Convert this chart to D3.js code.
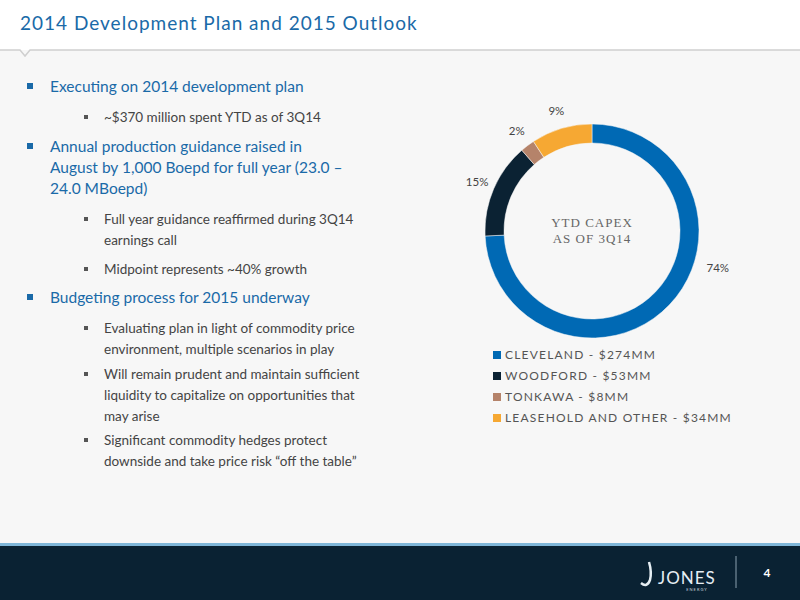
<!DOCTYPE html>
<html><head><meta charset="utf-8">
<script src="https://cdn.jsdelivr.net/npm/d3@7"></script>
<style>body{margin:0}svg{display:block}</style>
</head><body>
<svg id="slide" width="800" height="600"></svg>
<script>
// chart data
var categories = ["CLEVELAND", "WOODFORD", "TONKAWA", "LEASEHOLD AND OTHER"];
var capex = [274, 53, 8, 34];
var pctLabels = ["74%", "15%", "2%", "9%"];
var colors = ["#0069b4", "#0b2233", "#b5836a", "#f6a833"];

var bullets = [
  {lvl: 0, lines: ["Executing on 2014 development plan"]},
  {lvl: 1, lines: ["~$370 million spent YTD as of 3Q14"]},
  {lvl: 0, lines: ["Annual production guidance raised in", "August by 1,000 Boepd for full year (23.0 \u2013", "24.0 MBoepd)"]},
  {lvl: 1, lines: ["Full year guidance reaffirmed during 3Q14", "earnings call"]},
  {lvl: 1, lines: ["Midpoint represents ~40% growth"]},
  {lvl: 0, lines: ["Budgeting process for 2015 underway"]},
  {lvl: 1, lines: ["Evaluating plan in light of commodity price", "environment, multiple scenarios in play"]},
  {lvl: 1, lines: ["Will remain prudent and maintain sufficient", "liquidity to capitalize on opportunities that", "may arise"]},
  {lvl: 1, lines: ["Significant commodity hedges protect", "downside and take price risk \u201coff the table\u201d"]}
];
// layout: vertical gap before each bullet
var gaps = [0, 30, 30, 30, 29, 29, 30, 25, 24];

var svg = d3.select("#slide");
var font = "Lato, 'Open Sans', sans-serif";

// background + header
svg.append("rect").attr("width", 800).attr("height", 600).attr("fill", "#f7f7f7");
svg.append("rect").attr("width", 800).attr("height", 50).attr("fill", "#fff");
svg.append("path").attr("d", "M0,50 L20,50 L25,56 L30,50 L800,50")
  .attr("fill", "none").attr("stroke", "#cfcfcf").attr("stroke-width", 1.5);
svg.append("text").attr("x", 20).attr("y", 30).attr("font-family", font)
  .attr("font-size", 19).attr("letter-spacing", 1).attr("fill", "#1a6aa8")
  .text("2014 Development Plan and 2015 Outlook");

// footer
svg.append("rect").attr("y", 543).attr("width", 800).attr("height", 3).attr("fill", "#7fb6d8");
svg.append("rect").attr("y", 546).attr("width", 800).attr("height", 54).attr("fill", "#0a2233");
svg.append("text").attr("x", 658).attr("y", 584).attr("font-family", font)
  .attr("font-size", 17).attr("letter-spacing", 1).attr("fill", "#e6eef3").text("JONES");
svg.append("text").attr("x", 697).attr("y", 591).attr("text-anchor", "middle").attr("font-family", font)
  .attr("font-size", 4).attr("letter-spacing", 1).attr("fill", "#c8d2da").text("ENERGY");
svg.append("path").attr("d", "M649,562 Q652,572 650,580 Q647,588 641,583")
  .attr("fill", "none").attr("stroke", "#e6eef3").attr("stroke-width", 2.5);
svg.append("line").attr("x1", 736).attr("x2", 736).attr("y1", 556).attr("y2", 588)
  .attr("stroke", "#8aa0b0").attr("stroke-width", 1);
svg.append("text").attr("x", 767).attr("y", 577).attr("text-anchor", "middle").attr("font-family", font)
  .attr("font-size", 12).attr("font-weight", "bold").attr("fill", "#fff").text("4");

// bullet text
var y = 92;
bullets.forEach(function(b, i) {
  if (i > 0) y += gaps[i];
  var main = b.lvl === 0;
  svg.append("rect").attr("x", main ? 27 : 84).attr("y", y - (main ? 9 : 7))
    .attr("width", main ? 6 : 4).attr("height", main ? 6 : 4)
    .attr("fill", main ? "#1a6aa8" : "#555");
  b.lines.forEach(function(l, j) {
    if (j > 0) y += 21;
    svg.append("text").attr("x", main ? 50 : 104).attr("y", y)
      .attr("font-family", font).attr("font-size", main ? 15.5 : 13.5)
      .attr("fill", main ? "#1a6aa8" : "#444").text(l);
  });
});

// donut
var cx = 592, cy = 231, rOut = 107, rIn = 88;
var pie = d3.pie().sort(null)(capex);
var arc = d3.arc().innerRadius(rIn).outerRadius(rOut);
var labelArc = d3.arc().innerRadius(rOut + 18).outerRadius(rOut + 18);
var g = svg.append("g").attr("transform", "translate(" + cx + "," + cy + ")");
g.selectAll("path").data(pie).join("path")
  .attr("d", arc).attr("fill", function(d, i) { return colors[i]; })
  .attr("stroke", "#f7f7f7").attr("stroke-width", 0.5);
g.selectAll("text.pct").data(pie).join("text").attr("class", "pct")
  .attr("transform", function(d, i) {
    // the big slice's label sits on the right side, as in the original
    if (i === 0) { var a = Math.PI * 0.59; return "translate(" + [Math.sin(a) * 131, -Math.cos(a) * 131] + ")"; }
    return "translate(" + labelArc.centroid(d) + ")";
  })
  .attr("text-anchor", "middle").attr("dy", "0.35em")
  .attr("font-family", font).attr("font-size", 11.5).attr("fill", "#444")
  .text(function(d, i) { return pctLabels[i]; });
g.append("text").attr("y", -4).attr("text-anchor", "middle").attr("font-family", "'Liberation Serif', serif")
  .attr("font-size", 13).attr("letter-spacing", 1).attr("fill", "#666").text("YTD CAPEX");
g.append("text").attr("y", 12).attr("text-anchor", "middle").attr("font-family", "'Liberation Serif', serif")
  .attr("font-size", 13).attr("letter-spacing", 1).attr("fill", "#666").text("AS OF 3Q14");

// legend
var leg = svg.append("g").attr("transform", "translate(493,358)");
categories.forEach(function(c, i) {
  leg.append("rect").attr("x", 0).attr("y", i * 21 - 7).attr("width", 8).attr("height", 8).attr("fill", colors[i]);
  leg.append("text").attr("x", 12).attr("y", i * 21 + 1).attr("font-family", font)
    .attr("font-size", 12).attr("letter-spacing", 1.2).attr("fill", "#555")
    .text(c + " - $" + capex[i] + "MM");
});
</script>
</body></html>
